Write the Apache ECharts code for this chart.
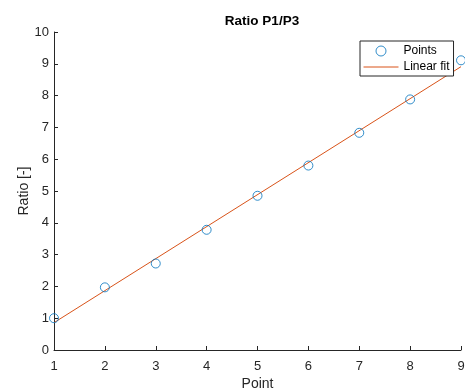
<!DOCTYPE html>
<html>
<head>
<meta charset="utf-8">
<script src="https://cdn.jsdelivr.net/npm/echarts@6/dist/echarts.min.js"></script>
<style>html,body{margin:0;padding:0;background:#fff}#c{width:465px;height:389px}</style>
</head>
<body>
<div id="c"></div>
<script>
const pointX = [1, 2, 3, 4, 5, 6, 7, 8, 9];
const pointY = [1.0, 1.97, 2.72, 3.78, 4.85, 5.80, 6.83, 7.88, 9.11];
const fitX = [1, 9];
const fitY = [0.86, 8.91];
const xTicks = [1, 2, 3, 4, 5, 6, 7, 8, 9];
const yTicks = [0, 1, 2, 3, 4, 5, 6, 7, 8, 9, 10];

const axisColor = '#262626';
const font = 'Liberation Sans, Arial, Helvetica, sans-serif';
const chart = echarts.init(document.getElementById('c'), null, {renderer: 'canvas'});
chart.setOption({
  animation: false,
  backgroundColor: '#fff',
  title: {
    text: 'Ratio P1/P3', left: 257, top: 9, textAlign: 'center',
    textStyle: {fontFamily: font, fontSize: 13.5, fontWeight: 'bold', color: '#000'}
  },
  grid: {left: 54, right: 4, top: 32, bottom: 39, outerBoundsMode: 'none', containLabel: false},
  legend: {
    orient: 'vertical', left: 360, top: 41,
    padding: [4, 4, 3, 3], itemGap: 4, itemWidth: 35, itemHeight: 10,
    borderColor: axisColor, borderWidth: 1, backgroundColor: '#fff',
    textStyle: {fontFamily: font, fontSize: 12, color: '#000'},
    data: [
      {name: 'Points', icon: 'circle', itemStyle: {borderWidth: 1, color: 'rgba(255,255,255,0)', borderColor: '#0072BD'}},
      {name: 'Linear fit', itemStyle: {opacity: 0}, lineStyle: {width: 1, color: '#D95319'}}
    ]
  },
  xAxis: {
    type: 'value', min: 1, max: 9, interval: 1,
    name: 'Point', nameLocation: 'middle', nameGap: 27, nameMoveOverlap: false,
    nameTextStyle: {fontFamily: font, fontSize: 14, color: axisColor},
    axisLine: {lineStyle: {color: axisColor, width: 1}},
    axisTick: {inside: true, length: 4, lineStyle: {color: axisColor}},
    axisLabel: {fontFamily: font, fontSize: 13, color: axisColor, margin: 10,
      formatter: v => xTicks.includes(v) ? String(v) : ''},
    splitLine: {show: false}
  },
  yAxis: {
    type: 'value', min: 0, max: 10, interval: 1,
    name: 'Ratio [-]', nameLocation: 'middle', nameGap: 23, nameRotate: 90, nameMoveOverlap: false,
    nameTextStyle: {fontFamily: font, fontSize: 14, color: axisColor},
    axisLine: {show: true, lineStyle: {color: axisColor, width: 1}},
    axisTick: {show: true, inside: true, length: 4, lineStyle: {color: axisColor}},
    axisLabel: {fontFamily: font, fontSize: 13, color: axisColor, margin: 5,
      formatter: v => yTicks.includes(v) ? String(v) : ''},
    splitLine: {show: false}
  },
  series: [
    {
      name: 'Points', type: 'scatter', symbol: 'circle', symbolSize: 9,
      clip: false,
      itemStyle: {color: 'rgba(255,255,255,0)', borderColor: '#0072BD', borderWidth: 1},
      data: pointX.map((x, i) => [x, pointY[i]]),
      z: 3
    },
    {
      name: 'Linear fit', type: 'line', symbol: 'none',
      lineStyle: {color: '#D95319', width: 1},
      itemStyle: {color: '#D95319'},
      data: fitX.map((x, i) => [x, fitY[i]]),
      z: 2
    }
  ]
});
</script>
</body>
</html>
